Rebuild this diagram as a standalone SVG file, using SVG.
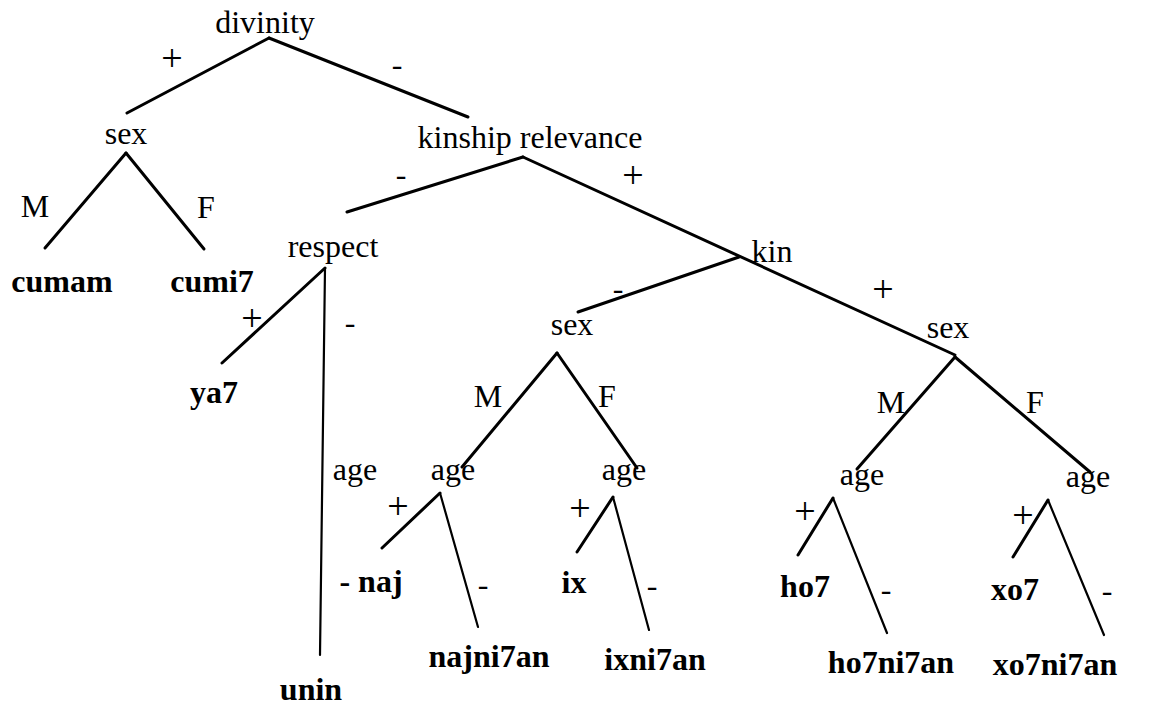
<svg xmlns="http://www.w3.org/2000/svg" width="1171" height="706" viewBox="0 0 1171 706">
<style>
text{font-family:"Liberation Serif","Times New Roman",serif;fill:#000;text-anchor:middle}
.n{font-size:32px}
.b{font-size:32px;font-weight:bold}
.l{font-size:32px}
.p{font-size:38px}
line{stroke:#000;stroke-linecap:round}
.t{stroke-width:3}
.s{stroke-width:2.2}
</style>
<rect width="1171" height="706" fill="#fff"/>
<g id="connectors">
<line class="t" x1="269" y1="38" x2="127" y2="113"/>
<line class="t" x1="269" y1="38" x2="468" y2="117"/>
<line class="t" x1="126" y1="153" x2="45" y2="248"/>
<line class="t" x1="126" y1="153" x2="204" y2="249"/>
<line class="t" x1="523" y1="157" x2="347" y2="212"/>
<line class="t" x1="523" y1="157" x2="955" y2="355"/>
<line class="t" x1="325" y1="268" x2="222" y2="363"/>
<line class="s" x1="325" y1="268" x2="320" y2="655"/>
<line class="t" x1="739" y1="257" x2="578" y2="312"/>
<line class="t" x1="557" y1="353" x2="462" y2="467"/>
<line class="t" x1="557" y1="353" x2="637" y2="468"/>
<line class="t" x1="440" y1="493" x2="382" y2="548"/>
<line class="s" x1="440" y1="493" x2="478" y2="627"/>
<line class="t" x1="613" y1="497" x2="577" y2="552"/>
<line class="s" x1="613" y1="497" x2="649" y2="630"/>
<line class="t" x1="955" y1="357" x2="857" y2="469"/>
<line class="t" x1="955" y1="357" x2="1090" y2="472"/>
<line class="t" x1="833" y1="498" x2="798" y2="555"/>
<line class="s" x1="833" y1="498" x2="887" y2="633"/>
<line class="t" x1="1048" y1="500" x2="1013" y2="557"/>
<line class="s" x1="1048" y1="500" x2="1104" y2="635"/>
<g id="edge-labels" class="l">
<text class="p" x="172" y="71">+</text>
<text x="397" y="75">-</text>
<text x="35" y="217">M</text>
<text x="206" y="218">F</text>
<text x="401" y="185">-</text>
<text class="p" x="633" y="188">+</text>
<text class="p" x="252" y="331">+</text>
<text x="350" y="333">-</text>
<text x="618" y="299">-</text>
<text class="p" x="883" y="302">+</text>
<text x="488" y="407">M</text>
<text x="607" y="407">F</text>
<text x="891" y="413">M</text>
<text x="1035" y="413">F</text>
<text x="355" y="480">age</text>
<text class="p" x="398" y="519">+</text>
<text x="483" y="595">-</text>
<text class="p" x="580" y="521">+</text>
<text x="652" y="596">-</text>
<text class="p" x="805" y="524">+</text>
<text x="886" y="600">-</text>
<text class="p" x="1023" y="528">+</text>
<text x="1107" y="601">-</text>
</g>
</g>
<g id="n-divinity"><text class="n" x="265" y="33">divinity</text></g>
<g id="n-sex1"><text class="n" x="126" y="144">sex</text></g>
<g id="n-kinship"><text class="n" x="530" y="148">kinship relevance</text></g>
<g id="n-cumam"><text class="b" x="62" y="292">cumam</text></g>
<g id="n-cumi7"><text class="b" x="212" y="292">cumi7</text></g>
<g id="n-respect"><text class="n" x="333" y="257">respect</text></g>
<g id="n-kin"><text class="n" x="772" y="262">kin</text></g>
<g id="n-ya7"><text class="b" x="214" y="403">ya7</text></g>
<g id="n-unin"><text class="b" x="311" y="700">unin</text></g>
<g id="n-sex2"><text class="n" x="572" y="335">sex</text></g>
<g id="n-sex3"><text class="n" x="948" y="338">sex</text></g>
<g id="n-age1"><text class="n" x="453" y="480">age</text></g>
<g id="n-age2"><text class="n" x="624" y="480">age</text></g>
<g id="n-age3"><text class="n" x="862" y="485">age</text></g>
<g id="n-age4"><text class="n" x="1088" y="487">age</text></g>
<g id="n-naj"><text class="b" x="371" y="592">- naj</text></g>
<g id="n-najni7an"><text class="b" x="489" y="667">najni7an</text></g>
<g id="n-ix"><text class="b" x="574" y="593">ix</text></g>
<g id="n-ixni7an"><text class="b" x="655" y="670">ixni7an</text></g>
<g id="n-ho7"><text class="b" x="805" y="597">ho7</text></g>
<g id="n-ho7ni7an"><text class="b" x="891" y="673">ho7ni7an</text></g>
<g id="n-xo7"><text class="b" x="1015" y="600">xo7</text></g>
<g id="n-xo7ni7an"><text class="b" x="1055" y="675">xo7ni7an</text></g>
</svg>
